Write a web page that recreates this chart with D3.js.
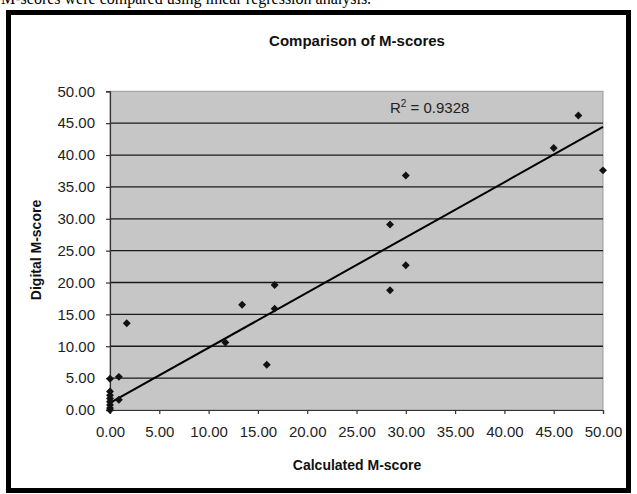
<!DOCTYPE html>
<html><head><meta charset="utf-8">
<script src="https://cdn.jsdelivr.net/npm/d3@7"></script>
<style>body{margin:0;background:#fff}svg{display:block}</style>
</head><body>
<script>
const calculated = [0,0,0,0,0,0,0,0,0.9,0.9,1.7,11.7,13.4,15.9,16.7,16.7,28.4,28.4,30.0,30.0,45.0,47.5,50.0];
const digital    = [4.9,2.9,2.3,1.8,1.3,0.8,0.3,0.0,5.2,1.6,13.6,10.6,16.5,7.1,19.6,15.9,18.8,29.1,22.7,36.8,41.1,46.2,37.6];
const trendX = [0, 50];
const trendY = [1.1, 44.4];
const xTicks = [0,5,10,15,20,25,30,35,40,45,50];
const yTicks = [0,5,10,15,20,25,30,35,40,45,50];
const title = "Comparison of M-scores";
const xTitle = "Calculated M-score";
const yTitle = "Digital M-score";
const rLabel = "0.9328";
const caption = "M-scores were compared using linear regression analysis.";

const W = 637, H = 494;
const svg = d3.select("body").append("svg").attr("width", W).attr("height", H);
const pL = 110, pR = 603, pT = 91.3, pB = 410;
const x = d3.scaleLinear().domain([0,50]).range([pL, pR]);
const y = d3.scaleLinear().domain([0,50]).range([pB, pT]);

svg.append("text").attr("x", 1).attr("y", 4).attr("font-family", "Liberation Serif, serif")
  .attr("font-size", 16).attr("fill", "#000").text(caption);

svg.append("rect").attr("x", 8.5).attr("y", 12.5).attr("width", 620).attr("height", 478)
  .attr("fill", "#fff").attr("stroke", "#000").attr("stroke-width", 5);

svg.append("rect").attr("x", pL).attr("y", pT).attr("width", pR-pL).attr("height", pB-pT)
  .attr("fill", "#c6c6c6").attr("stroke", "#9a9a9a").attr("stroke-width", 1);

svg.append("g").selectAll("line").data(yTicks.filter(d => d > 0 && d < 50)).join("line")
  .attr("x1", pL).attr("x2", pR).attr("y1", d => y(d)).attr("y2", d => y(d))
  .attr("stroke", "#1a1a1a").attr("stroke-width", 1.3);

const fmt = d3.format(".2f");
const yAxis = svg.append("g").attr("transform", `translate(${pL},0)`)
  .call(d3.axisLeft(y).tickValues(yTicks).tickFormat(fmt).tickSize(4).tickPadding(11));
const xAxis = svg.append("g").attr("transform", `translate(0,${pB})`)
  .call(d3.axisBottom(x).tickValues(xTicks).tickFormat(fmt).tickSize(4).tickPadding(12));
[yAxis, xAxis].forEach(a => {
  a.select(".domain").attr("stroke", "#333").attr("stroke-width", 1.2);
  a.selectAll(".tick line").attr("stroke", "#333").attr("stroke-width", 1.2);
  a.selectAll("text").attr("font-family", "Liberation Sans, Arial, sans-serif")
    .attr("font-size", 15).attr("fill", "#1e1e1e");
});

const line = d3.line().x(d => x(d[0])).y(d => y(d[1]));
svg.append("path").datum(trendX.map((v,i) => [v, trendY[i]])).attr("d", line)
  .attr("fill", "none").attr("stroke", "#000").attr("stroke-width", 2);

const sym = d3.symbol().type(d3.symbolDiamond2).size(40);
svg.append("g").selectAll("path").data(calculated.map((v,i) => [v, digital[i]])).join("path")
  .attr("transform", d => `translate(${x(d[0])},${y(d[1])})`)
  .attr("d", sym).attr("fill", "#111");

const rt = svg.append("text").attr("x", 390).attr("y", 113)
  .attr("font-family", "Liberation Sans, Arial, sans-serif").attr("font-size", 15).attr("fill", "#222");
rt.append("tspan").text("R");
rt.append("tspan").attr("font-size", 10).attr("dy", -6).text("2");
rt.append("tspan").attr("dy", 6).text(" = " + rLabel);

svg.append("text").attr("x", 357).attr("y", 46).attr("text-anchor", "middle")
  .attr("font-family", "Liberation Sans, Arial, sans-serif").attr("font-weight", "bold")
  .attr("font-size", 15).attr("fill", "#111").text(title);
svg.append("text").attr("x", 357).attr("y", 470).attr("text-anchor", "middle")
  .attr("font-family", "Liberation Sans, Arial, sans-serif").attr("font-weight", "bold")
  .attr("font-size", 14).attr("fill", "#111").text(xTitle);
svg.append("text").attr("transform", "translate(41,250) rotate(-90)").attr("text-anchor", "middle")
  .attr("font-family", "Liberation Sans, Arial, sans-serif").attr("font-weight", "bold")
  .attr("font-size", 14).attr("fill", "#111").text(yTitle);
</script>
</body></html>
